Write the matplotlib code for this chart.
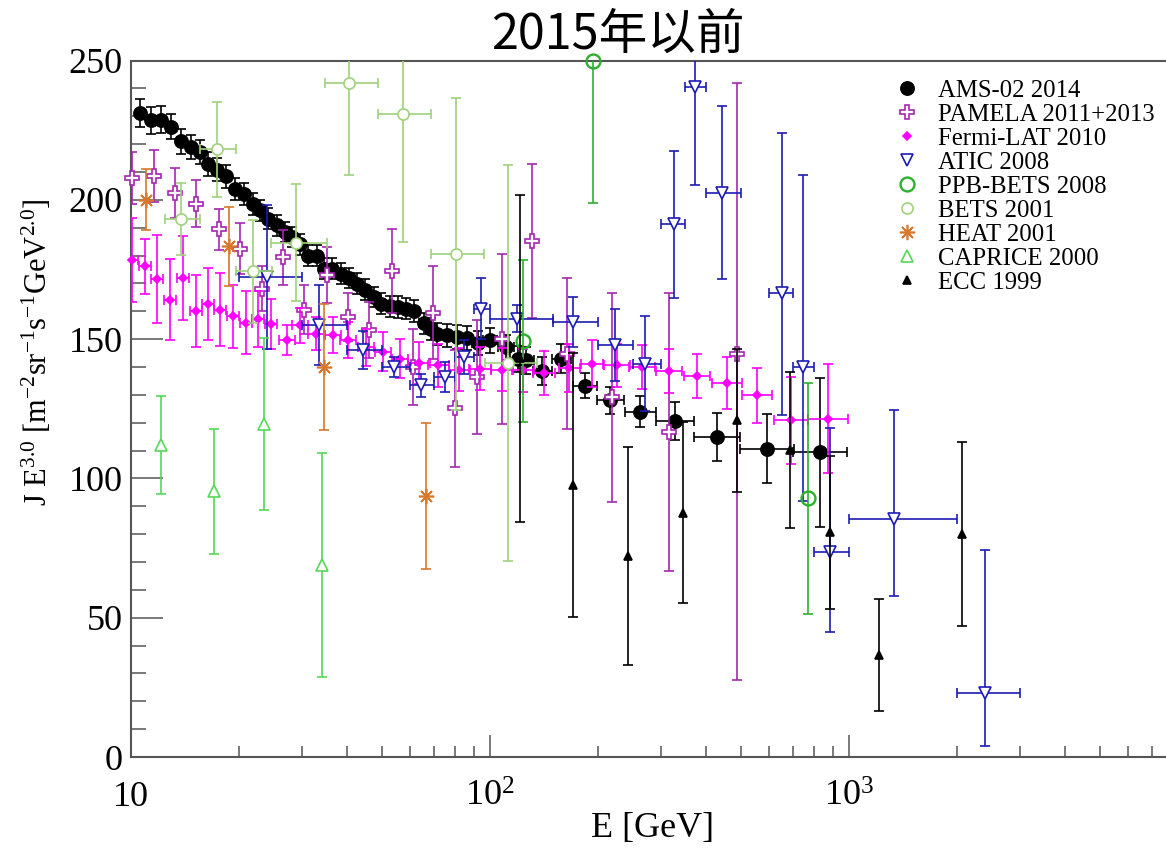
import numpy as np
import matplotlib
matplotlib.use('Agg')
import matplotlib.pyplot as plt
from matplotlib.ticker import FixedLocator, FixedFormatter, LogLocator, NullFormatter, MultipleLocator

plt.rcParams['font.family'] = 'serif'
plt.rcParams['font.serif'] = ['Liberation Serif', 'DejaVu Serif']
plt.rcParams['mathtext.fontset'] = 'custom'
plt.rcParams['mathtext.rm'] = 'Liberation Serif'
plt.rcParams['mathtext.it'] = 'Liberation Serif:italic'
plt.rcParams['mathtext.bf'] = 'Liberation Serif:bold'

# ---------------- data ----------------
ams_E = [10.6, 11.4, 12.1, 12.9, 13.8, 14.7, 15.6, 16.4, 17.4, 18.4, 19.5, 20.6, 21.8, 22.9,
         24.1, 25.5, 26.8, 28.0, 29.5, 31.2, 32.9, 34.5, 36.4, 38.4, 40.4, 42.7, 45.0, 47.5,
         49.8, 52.8, 55.6, 58.2, 61.5, 65.3, 68.3, 71.2, 75.9, 81.0, 86.1, 92.6, 99.9, 111.0,
         119.6, 125.8, 140.0, 158.0, 184.0, 216.5, 262.0, 327.0, 428.0, 590.0, 830.0]
ams_J = [231.2, 228.5, 228.7, 226.3, 221.0, 218.9, 217.1, 212.9, 210.8, 208.4, 204.0, 202.2,
         198.6, 196.2, 193.2, 190.8, 188.4, 186.6, 184.0, 180.0, 180.0, 175.3, 175.3, 173.5,
         171.9, 169.9, 167.7, 165.1, 162.7, 161.8, 161.5, 160.9, 160.0, 155.6, 153.7, 151.9,
         151.4, 150.8, 150.5, 148.6, 149.6, 147.0, 143.0, 142.4, 138.7, 143.0, 133.3, 128.0,
         124.0, 120.6, 114.9, 110.7, 109.3]
ams_err = [5.0, 4.8, 4.8, 4.6, 4.5, 4.4, 4.3, 4.2, 4.1, 4.0, 4.0, 3.9, 3.9, 3.8, 3.8, 3.8,
           3.7, 3.7, 3.7, 3.7, 3.7, 3.7, 3.7, 3.7, 3.7, 3.7, 3.7, 3.7, 3.7, 3.8, 3.8, 3.8,
           3.9, 3.9, 4.0, 4.0, 4.1, 4.2, 4.3, 4.4, 4.5, 4.6, 4.7, 4.8, 5.0, 5.2, 4.6, 4.8,
           5.7, 6.8, 8.6, 12.4, 26.6]
# half bin width in decades
ams_dex = [0.012, 0.012, 0.012, 0.012, 0.012, 0.012, 0.012, 0.012, 0.012, 0.012, 0.012,
           0.012, 0.012, 0.012, 0.012, 0.012, 0.012, 0.012, 0.012, 0.012, 0.012, 0.012,
           0.012, 0.012, 0.012, 0.012, 0.012, 0.012, 0.012, 0.012, 0.012, 0.012, 0.012,
           0.012, 0.012, 0.012, 0.012, 0.012, 0.012, 0.018, 0.020, 0.022, 0.022, 0.022,
           0.026, 0.026, 0.0325, 0.038, 0.043, 0.053, 0.064, 0.075, 0.075]

pamela_E = [10.08, 11.6, 13.3, 15.2, 17.6, 20.1, 23.2, 26.5, 30.4, 35.1, 40.2, 46.1, 53.2,
            61.2, 69.5, 79.8, 91.8, 107.8, 130.7, 163.5, 219.0, 316.0, 489.0]
pamela_J = [207.8, 208.5, 202.5, 198.6, 189.4, 182.5, 168.1, 179.4, 160.6, 172.9, 157.9,
            153.2, 174.4, 140.0, 159.4, 125.1, 136.4, 150.2, 185.1, 144.8, 129.2, 116.7, 144.8]
pamela_dn = [9.3, 9.3, 9.0, 8.4, 7.4, 9.0, 8.0, 9.9, 8.7, 10.0, 8.6, 10.0, 15.0, 13.8, 16.7,
             21.0, 20.6, 30.5, 27.6, 27.0, 37.5, 50.0, 117.0]
pamela_up = [9.3, 9.3, 9.0, 8.4, 7.4, 9.0, 8.0, 9.9, 8.7, 10.0, 8.6, 10.0, 15.0, 13.8, 16.7,
             21.0, 20.6, 30.5, 27.6, 27.0, 37.5, 50.0, 97.0]

fermi_E = [10.04, 10.94, 11.84, 12.84, 13.99, 15.15, 16.36, 17.70, 19.27, 20.87, 22.63, 24.55,
           27.14, 29.57, 32.76, 36.47, 40.30, 45.15, 50.44, 56.15, 63.42, 71.78, 82.14, 93.78,
           107.8, 123.8, 141.4, 166.3, 192.4, 225.4, 265.6, 315.8, 376.5, 456.3, 553.3, 688.1,
           875.7]
fermi_J = [178.3, 176.1, 171.7, 164.2, 172.0, 160.1, 162.5, 160.6, 158.2, 155.9, 157.3, 155.3,
           149.8, 155.0, 152.0, 151.4, 149.6, 147.0, 145.4, 143.0, 141.4, 140.6, 139.0, 139.4,
           139.0, 138.8, 137.8, 139.6, 141.2, 140.6, 140.0, 138.5, 136.7, 134.2, 129.8, 120.9,
           121.5]
fermi_err = [15.0, 10.0, 15.8, 14.5, 15.0, 13.0, 13.0, 13.0, 11.3, 11.4, 10.0, 9.0, 5.4, 6.3,
             6.0, 6.5, 6.5, 6.5, 7.0, 7.0, 7.5, 7.8, 7.8, 7.8, 7.8, 7.8, 8.0, 8.5, 8.5, 7.8,
             7.8, 7.8, 7.8, 9.3, 9.9, 15.6, 19.7]
fermi_dex = [0.017, 0.017, 0.017, 0.017, 0.017, 0.017, 0.017, 0.017, 0.017, 0.017, 0.017,
             0.017, 0.022, 0.022, 0.022, 0.022, 0.022, 0.022, 0.022, 0.022, 0.030, 0.030,
             0.030, 0.030, 0.030, 0.030, 0.030, 0.030, 0.030, 0.036, 0.036, 0.036, 0.036,
             0.042, 0.042, 0.047, 0.056]

atic_E = [23.9, 33.3, 44.4, 54.1, 64.3, 75.1, 84.8, 94.2, 119.2, 170.6, 222.3, 271.0, 325.6,
          373.0, 443.0, 649.0, 745.0, 885.0, 1335.0, 2392.0]
atic_J = [172.3, 155.0, 146.0, 140.0, 133.4, 136.4, 143.6, 160.9, 157.3, 156.1, 147.8, 141.2,
          191.2, 240.4, 202.5, 166.5, 140.0, 73.6, 85.5, 22.8]
atic_dn = [26.0, 14.3, 6.9, 3.5, 4.2, 5.4, 6.2, 11.0, 4.8, 9.0, 13.0, 17.0, 26.3, 35.0, 31.0,
           43.9, 48.0, 28.8, 27.8, 18.8]
atic_up = [26.0, 14.3, 6.9, 3.5, 4.2, 5.4, 6.2, 11.0, 4.8, 9.0, 13.0, 17.0, 26.3, 35.0, 31.0,
           57.4, 69.0, 44.5, 39.0, 51.4]
atic_lo = [20, 30, 40, 50, 60, 70, 80, 90, 100, 150, 200, 250, 300, 350, 400, 600, 700, 800,
           1000, 2000]
atic_hi = [30, 40, 50, 60, 70, 80, 90, 100, 150, 200, 250, 300, 350, 400, 500, 700, 800, 1000,
           2000, 3000]

ppb_E = [123.2, 193.6, 770.0]
ppb_J = [149.3, 249.8, 92.8]
ppb_err = [29.2, 51.0, 41.5]

bets_E = [13.8, 17.4, 21.8, 28.9, 40.6, 57.2, 80.6, 112.3]
bets_J = [193.2, 218.1, 174.3, 184.5, 242.0, 230.8, 180.7, 141.4]
bets_err = [13.0, 17.0, 18.5, 21.0, 33.0, 46.0, 56.0, 71.0]
bets_lo = [12.4, 15.6, 19.6, 24.5, 34.7, 48.9, 68.5, 96.9]
bets_hi = [15.6, 19.6, 24.7, 35.1, 48.7, 68.5, 96.2, 135.0]

heat_E = [11.0, 18.8, 34.4, 66.2]
heat_J = [200.1, 183.3, 140.0, 93.7]
heat_err = [10.8, 14.2, 22.7, 26.2]

caprice_E = [12.1, 17.0, 23.4, 34.1]
caprice_J = [111.9, 95.4, 119.6, 68.9]
caprice_err = [17.6, 22.4, 30.8, 40.2]

ecc_E = [121.3, 170.6, 242.0, 344.0, 487.0, 687.0, 883.0, 1215.0, 2070.0]
ecc_J = [143.1, 97.6, 72.2, 87.7, 120.9, 110.1, 80.6, 36.6, 80.2]
ecc_err = [58.8, 47.3, 39.0, 32.5, 25.7, 28.0, 27.6, 20.2, 33.0]

labels = ['AMS-02 2014', 'PAMELA 2011+2013', 'Fermi-LAT 2010', 'ATIC 2008', 'PPB-BETS 2008',
          'BETS 2001', 'HEAT 2001', 'CAPRICE 2000', 'ECC 1999']


def draw_set(ax, E, J, dn, up, color, marker, ms, face, xlo=None, xhi=None, z=2, mew=1.2):
    E = np.asarray(E, float)
    J = np.asarray(J, float)
    xerr = None
    if xlo is not None:
        xerr = [E - np.asarray(xlo, float), np.asarray(xhi, float) - E]
    ax.errorbar(E, J, yerr=[dn, up], xerr=xerr, fmt='none', ecolor=color,
                elinewidth=1.2, capsize=3.5, capthick=1.2, zorder=z)
    line, = ax.plot(E, J, linestyle='none', marker=marker, ms=ms, mfc=face, mec=color,
                    mew=mew, zorder=z + 0.5, clip_on=False)
    return line


def dex_bins(E, dex):
    E = np.asarray(E, float)
    d = np.asarray(dex, float)
    return E / 10 ** d, E * 10 ** d


fig = plt.figure(figsize=(11.66, 8.5), dpi=100)
ax = fig.add_axes([131 / 1166, 1 - 757 / 850, 1 - 131 / 1166, (757 - 60.5) / 850])
ax.set_xscale('log')

handles = []
lo, hi = dex_bins(ams_E, ams_dex)
handles.append(draw_set(ax, ams_E, ams_J, ams_err, ams_err, 'black', 'o', 9.5, 'black',
                        lo, hi, z=2))
handles.append(draw_set(ax, pamela_E, pamela_J, pamela_dn, pamela_up, '#a526b0', 'P', 10.5,
                        'white', z=3))
lo, hi = dex_bins(fermi_E, fermi_dex)
handles.append(draw_set(ax, fermi_E, fermi_J, fermi_err, fermi_err, '#ff00ff', 'D', 4.5,
                        '#ff00ff', lo, hi, z=4))
handles.append(draw_set(ax, atic_E, atic_J, atic_dn, atic_up, '#1c1cb4', 'v', 8.5, 'white',
                        atic_lo, atic_hi, z=5))
handles.append(draw_set(ax, ppb_E, ppb_J, ppb_err, ppb_err, '#2eb02e', 'o', 10, 'none',
                        z=6, mew=1.7))
handles.append(draw_set(ax, bets_E, bets_J, bets_err, bets_err, '#9fd27a', 'o', 8, 'white',
                        bets_lo, bets_hi, z=7))
handles.append(draw_set(ax, heat_E, heat_J, heat_err, heat_err, '#d8782c', (8, 2, 0), 11,
                        'none', z=8))
handles.append(draw_set(ax, caprice_E, caprice_J, caprice_err, caprice_err, '#55d855', '^',
                        8.5, 'white', z=9))
handles.append(draw_set(ax, ecc_E, ecc_J, ecc_err, ecc_err, 'black', '^', 6, 'black', z=10))

ax.set_xlim(10, 7640)
ax.set_ylim(0, 250)

# ticks
axis_col = '#555555'
for s in ['left', 'bottom', 'top']:
    ax.spines[s].set_color(axis_col)
    ax.spines[s].set_linewidth(1.5)
ax.spines['right'].set_visible(False)

ax.xaxis.set_major_locator(FixedLocator([10, 100, 1000]))
ax.xaxis.set_major_formatter(FixedFormatter(['10', r'$10^2$', r'$10^3$']))
ax.xaxis.set_minor_locator(LogLocator(base=10, subs=(2, 3, 4, 5, 6, 7, 8, 9)))
ax.xaxis.set_minor_formatter(NullFormatter())
ax.yaxis.set_major_locator(MultipleLocator(50))
ax.yaxis.set_minor_locator(MultipleLocator(10))

ax.tick_params(axis='both', which='both', direction='in', color=axis_col, width=1.1,
               top=False, right=False, labelsize=26)
ax.tick_params(axis='y', which='major', length=23, pad=6)
ax.tick_params(axis='y', which='minor', length=11)
ax.tick_params(axis='x', which='major', length=16, pad=35)
ax.tick_params(axis='x', which='minor', length=8)
for t in ax.get_xticklabels():
    t.set_va('baseline')

ax.set_xlabel('E [GeV]', fontsize=26)
ax.xaxis.set_label_coords(0.504, -0.079)
ax.set_ylabel(r'J E$^{3.0}$ [m$^{-2}$sr$^{-1}$s$^{-1}$GeV$^{2.0}$]', fontsize=22)
ax.yaxis.set_label_coords(-0.074, 0.581)

fig.legend(handles, labels, loc='upper left', bbox_to_anchor=(895 / 1166, 1 - 79.5 / 850),
           frameon=False, fontsize=17.8, handlelength=0.95, handletextpad=0.8,
           labelspacing=0.07, borderpad=0, borderaxespad=0, numpoints=1)

fig.text(618 / 1166, 1 - 35 / 850, '2015年以前', fontsize=35, ha='center', va='center',
         family=['Noto Sans CJK SC', 'DejaVu Sans'])

fig.savefig('out.png', dpi=100)
